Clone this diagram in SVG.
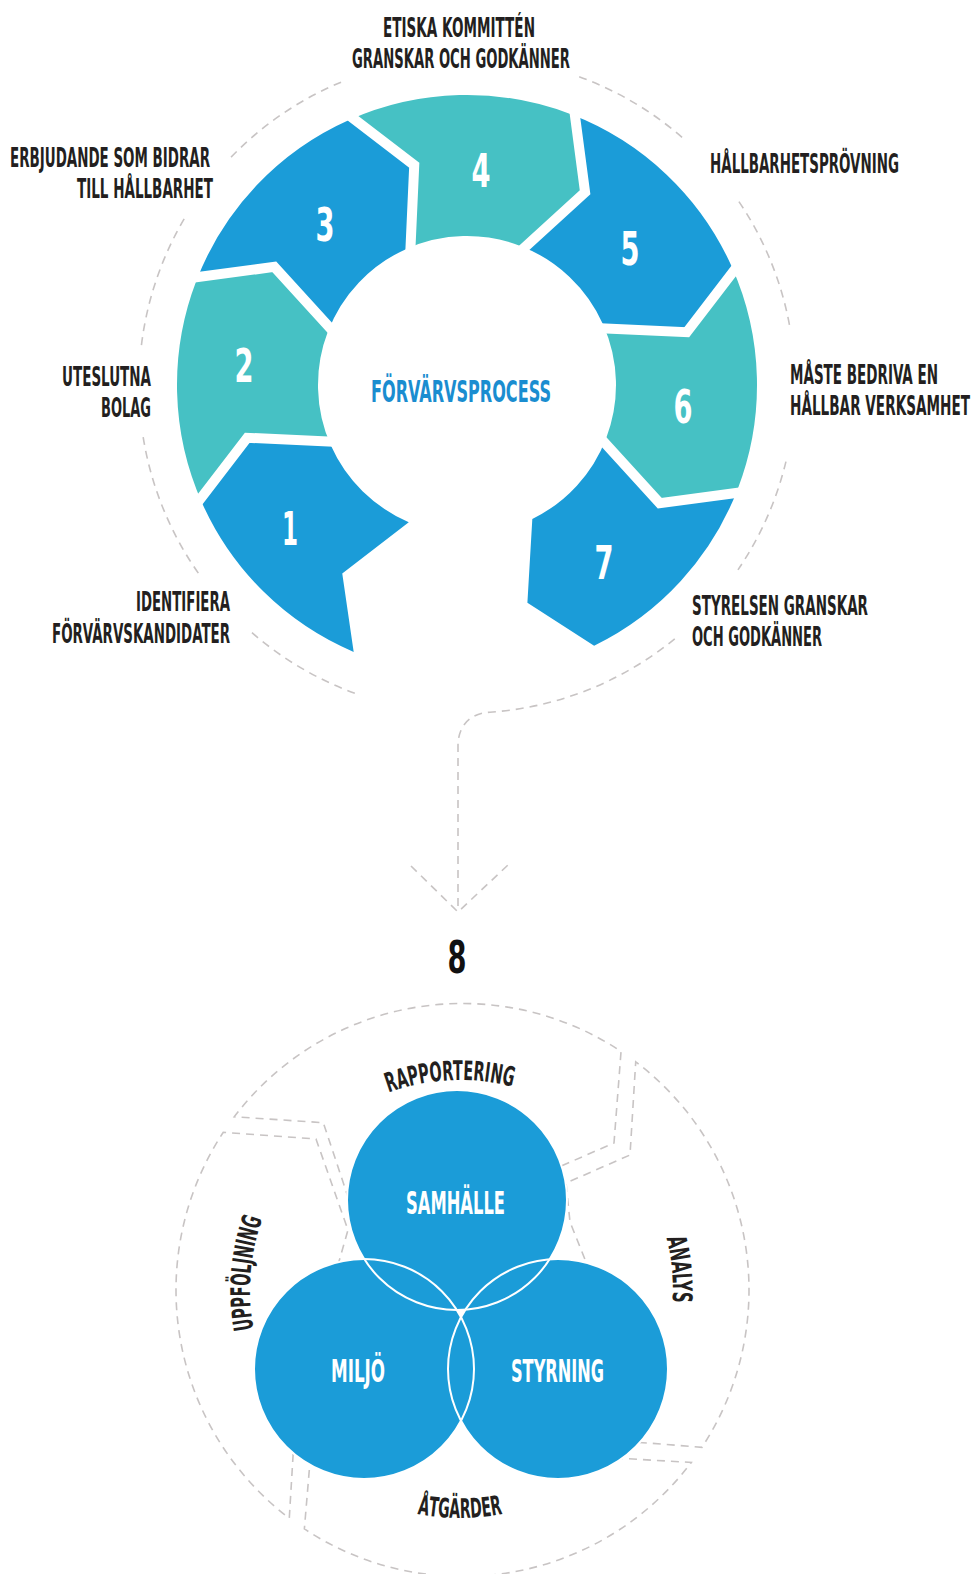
<svg xmlns="http://www.w3.org/2000/svg" width="977" height="1574" viewBox="0 0 977 1574">
<style>
.lbl{font-family:'Liberation Sans Narrow','DejaVu Sans Condensed','Liberation Sans',sans-serif;font-weight:bold;font-size:27px;fill:#231f20}
.dig{font-family:'Liberation Sans Narrow','DejaVu Sans Condensed','Liberation Sans',sans-serif;font-weight:bold;font-size:47px;fill:#ffffff;text-anchor:middle}
.vt{font-family:'Liberation Sans Narrow','DejaVu Sans Condensed','Liberation Sans',sans-serif;font-weight:bold;font-size:32px;fill:#ffffff;text-anchor:middle}
.dash{fill:none;stroke:#c8c4c4;stroke-width:1.6;stroke-dasharray:8 6}
.blue{fill:#1b9cd8}
.teal{fill:#46c1c4}
.sep{fill:none;stroke:#ffffff;stroke-width:10;stroke-linejoin:miter}
</style>
<defs>
<path id="pRap" d="M311.5,1141.5 A210,210 0 0 1 608.5,1141.5"/>
<path id="pUpp" d="M311.5,1438.5 A210,210 0 0 1 311.5,1141.5"/>
<path id="pAna" d="M610.6,1139.4 A213,213 0 0 1 610.6,1440.6"/>
<path id="pAtg" d="M298.8,1451.2 A228,228 0 0 0 621.2,1451.2"/>
</defs>
<rect width="977" height="1574" fill="#ffffff"/>

<g id="connectors">
<path class="dash" d="M354.82,693.22 A328,328 0 0 1 247.53,628.75"/>
<path class="dash" d="M198.32,573.13 A328,328 0 0 1 143.04,436.31"/>
<path class="dash" d="M141.44,345.03 A328,328 0 0 1 185.85,216.07"/>
<path class="dash" d="M231.06,157.15 A328,328 0 0 1 341.48,81.97"/>
<path class="dash" d="M579.18,76.78 A328,328 0 0 1 682.19,137.46"/>
<path class="dash" d="M738.93,201.59 A328,328 0 0 1 790.02,328.04"/>
<path class="dash" d="M785.94,461.57 A328,328 0 0 1 737.96,569.84"/>
<path class="dash" d="M674.75,638.82 A328,328 0 0 1 489.88,712.2 C472,713 458,724 458,746 L458,912"/>
<path class="dash" d="M411,866 L458,912 L509,864"/>
<path class="dash" d="M294,1440 L289.28,1518.21 A286.5,286.5 0 0 1 223.32,1132.29 L316,1139 L348,1230 L336,1272"/>
<path class="dash" d="M353,1212 L323.3,1122.7 L234.29,1116.78 A286.5,286.5 0 0 1 621.05,1051.37 L614,1143 L552,1170"/>
<path class="dash" d="M590,1272 L570,1222 L566,1183 L630,1155 L635.72,1061.79 A286.5,286.5 0 0 1 701.96,1447.29 L648,1443 L630,1442"/>
<path class="dash" d="M615,1458 L691.31,1462.42 A286.5,286.5 0 0 1 304.37,1528.91 L309.3,1470 L310,1450"/>
</g>

<g id="seg1"><path class="blue" d="M353.69,651.95 A290,290 0 0 1 202.07,502.95 L247.24,437.76 L330.88,445.6 A149,149 0 0 0 408.78,522.15 L342.26,573.46 Z"/></g>
<g id="seg2"><path class="teal" d="M202.07,502.95 A290,290 0 0 1 196.26,281.07 L274.3,266.91 L327.9,331.6 A149,149 0 0 0 330.88,445.6 L247.24,437.76 Z"/></g>
<g id="seg3"><path class="blue" d="M196.26,281.07 A290,290 0 0 1 349.05,120.07 L414.24,165.24 L406.4,248.88 A149,149 0 0 0 327.9,331.6 L274.3,266.91 Z"/></g>
<g id="seg4"><path class="teal" d="M349.05,120.07 A290,290 0 0 1 570.93,114.26 L585.09,192.3 L520.4,245.9 A149,149 0 0 0 406.4,248.88 L414.24,165.24 Z"/></g>
<g id="seg5"><path class="blue" d="M570.93,114.26 A290,290 0 0 1 731.93,267.05 L686.76,332.24 L603.12,324.4 A149,149 0 0 0 520.4,245.9 L585.09,192.3 Z"/></g>
<g id="seg6"><path class="teal" d="M731.93,267.05 A290,290 0 0 1 737.74,488.93 L659.7,503.09 L606.1,438.4 A149,149 0 0 0 603.12,324.4 L686.76,332.24 Z"/></g>
<g id="seg7"><path class="blue" d="M737.74,488.93 A290,290 0 0 1 594.13,645.65 L527.4,602.78 L532.32,518.92 A149,149 0 0 0 606.1,438.4 L659.7,503.09 Z"/></g>
<g id="separators">
<polyline class="sep" points="194.76,506.21 247.24,437.76 339.1,441.94"/>
<polyline class="sep" points="188.79,278.21 274.3,266.91 336.3,334.83"/>
<polyline class="sep" points="345.79,112.76 414.24,165.24 410.06,257.1"/>
<polyline class="sep" points="573.79,106.79 585.09,192.3 517.17,254.3"/>
<polyline class="sep" points="739.24,263.79 686.76,332.24 594.9,328.06"/>
<polyline class="sep" points="745.21,491.79 659.7,503.09 597.7,435.17"/>
</g>
<g id="digits">
<text class="dig" x="290" y="545" textLength="16" lengthAdjust="spacingAndGlyphs">1</text>
<text class="dig" x="244" y="382" textLength="19" lengthAdjust="spacingAndGlyphs">2</text>
<text class="dig" x="325" y="241" textLength="19" lengthAdjust="spacingAndGlyphs">3</text>
<text class="dig" x="481" y="187" textLength="19" lengthAdjust="spacingAndGlyphs">4</text>
<text class="dig" x="630" y="265" textLength="19" lengthAdjust="spacingAndGlyphs">5</text>
<text class="dig" x="683" y="423" textLength="19" lengthAdjust="spacingAndGlyphs">6</text>
<text class="dig" x="604" y="579" textLength="19" lengthAdjust="spacingAndGlyphs">7</text>
</g>
<g id="center"><text x="461" y="402" text-anchor="middle" textLength="180" lengthAdjust="spacingAndGlyphs" style="font-family:'Liberation Sans Narrow','DejaVu Sans Condensed','Liberation Sans',sans-serif;font-weight:bold;font-size:30px;fill:#1a8dd0">FÖRVÄRVSPROCESS</text></g>

<g id="labels">
<text class="lbl" transform="translate(459,37) scale(0.6,1)" text-anchor="middle" textLength="253.3" lengthAdjust="spacingAndGlyphs">ETISKA KOMMITTÉN</text>
<text class="lbl" transform="translate(461,68) scale(0.6,1)" text-anchor="middle" textLength="363.3" lengthAdjust="spacingAndGlyphs">GRANSKAR OCH GODKÄNNER</text>
<text class="lbl" transform="translate(210,167) scale(0.6,1)" text-anchor="end" textLength="333.3" lengthAdjust="spacingAndGlyphs">ERBJUDANDE SOM BIDRAR</text>
<text class="lbl" transform="translate(213,198) scale(0.6,1)" text-anchor="end" textLength="226.7" lengthAdjust="spacingAndGlyphs">TILL HÅLLBARHET</text>
<text class="lbl" transform="translate(710,173) scale(0.6,1)" textLength="315" lengthAdjust="spacingAndGlyphs">HÅLLBARHETSPRÖVNING</text>
<text class="lbl" transform="translate(151,386) scale(0.6,1)" text-anchor="end" textLength="148.3" lengthAdjust="spacingAndGlyphs">UTESLUTNA</text>
<text class="lbl" transform="translate(151,417) scale(0.6,1)" text-anchor="end" textLength="83.3" lengthAdjust="spacingAndGlyphs">BOLAG</text>
<text class="lbl" transform="translate(790,384) scale(0.55,1)" textLength="269.1" lengthAdjust="spacingAndGlyphs">MÅSTE BEDRIVA EN</text>
<text class="lbl" transform="translate(790,415) scale(0.5,1)" textLength="360" lengthAdjust="spacingAndGlyphs">HÅLLBAR VERKSAMHET</text>
<text class="lbl" transform="translate(230,611) scale(0.6,1)" text-anchor="end" textLength="156.7" lengthAdjust="spacingAndGlyphs">IDENTIFIERA</text>
<text class="lbl" transform="translate(230,643) scale(0.6,1)" text-anchor="end" textLength="296.7" lengthAdjust="spacingAndGlyphs">FÖRVÄRVSKANDIDATER</text>
<text class="lbl" transform="translate(692,615) scale(0.6,1)" textLength="293.3" lengthAdjust="spacingAndGlyphs">STYRELSEN GRANSKAR</text>
<text class="lbl" transform="translate(692,646) scale(0.6,1)" textLength="216.7" lengthAdjust="spacingAndGlyphs">OCH GODKÄNNER</text>
</g>

<g id="step8"><text x="457" y="973" text-anchor="middle" textLength="19" lengthAdjust="spacingAndGlyphs" style="font-family:'Liberation Sans Narrow','DejaVu Sans Condensed','Liberation Sans',sans-serif;font-weight:bold;font-size:44px;fill:#111111">8</text></g>

<g id="venn-samhalle"><circle class="blue" cx="457" cy="1200" r="110"/></g>
<g id="venn-miljo"><circle class="blue" cx="364" cy="1369" r="110"/></g>
<g id="venn-styrning"><circle class="blue" cx="558" cy="1369" r="110"/></g>
<g id="venn-outlines" fill="none" stroke="#ffffff" stroke-width="2">
<circle cx="457" cy="1200" r="110"/>
<circle cx="364" cy="1369" r="110"/>
<circle cx="558" cy="1369" r="110"/>
</g>
<g id="venn-texts">
<text class="vt" x="455.5" y="1214" textLength="99" lengthAdjust="spacingAndGlyphs">SAMHÄLLE</text>
<text class="vt" x="358" y="1382" textLength="54" lengthAdjust="spacingAndGlyphs">MILJÖ</text>
<text class="vt" x="557.5" y="1382" textLength="93" lengthAdjust="spacingAndGlyphs">STYRNING</text>
</g>
<g id="cycle-labels">
<text class="lbl"><textPath href="#pRap" startOffset="47%" text-anchor="middle" textLength="126" lengthAdjust="spacingAndGlyphs">RAPPORTERING</textPath></text>
<text class="lbl"><textPath href="#pUpp" startOffset="55%" text-anchor="middle" textLength="112" lengthAdjust="spacingAndGlyphs">UPPFÖLJNING</textPath></text>
<text class="lbl"><textPath href="#pAna" startOffset="44%" text-anchor="middle" textLength="65" lengthAdjust="spacingAndGlyphs">ANALYS</textPath></text>
<text class="lbl"><textPath href="#pAtg" startOffset="50%" text-anchor="middle" textLength="86" lengthAdjust="spacingAndGlyphs">ÅTGÄRDER</textPath></text>
</g>
</svg>
